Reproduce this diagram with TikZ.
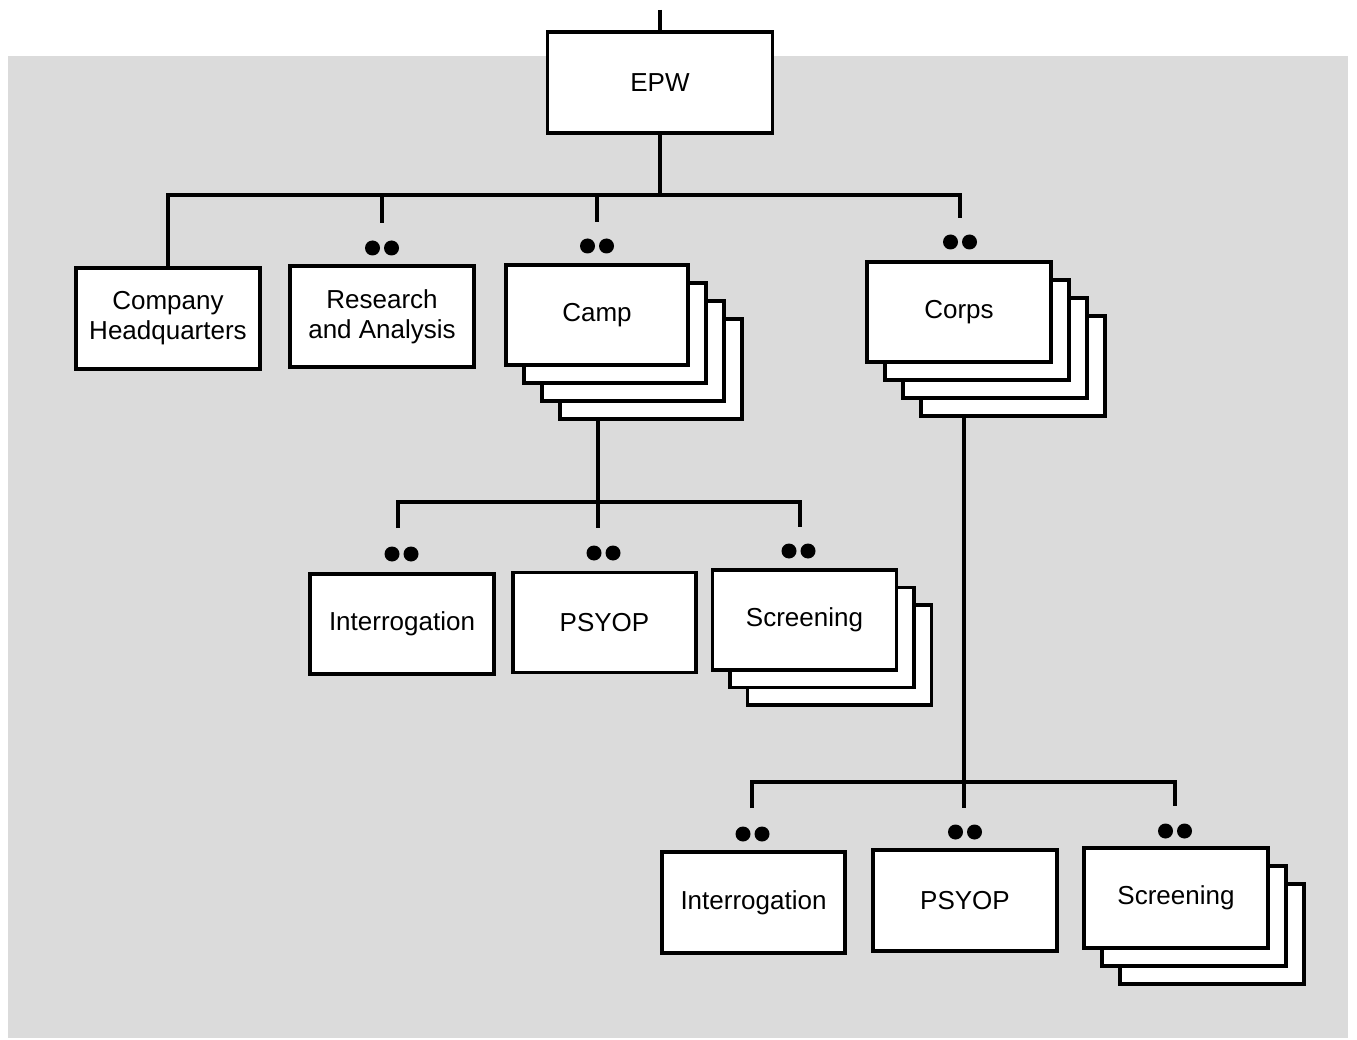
\documentclass[tikz,border=0pt]{standalone}
\usepackage{fontspec}
\setmainfont{Liberation Sans}
\definecolor{stipple}{gray}{0.86}
\pgfdeclarelayer{bg}
\pgfdeclarelayer{edges}
\pgfsetlayers{bg,edges,main}
\tikzset{
  box/.style={draw=black, fill=white, line width=3.6pt, inner sep=0pt, align=center,
    font=\fontsize{26}{30}\selectfont},
  conn/.style={line width=3.6pt, line cap=butt},
}
\newcommand\dotpair[1]{\fill[shift={(#1)}] (-9.5,0) circle (7.5) (9.5,0) circle (7.5);}
\begin{document}
\begin{tikzpicture}[x=1pt,y=-1pt]
\useasboundingbox (0,0) rectangle (1357,1040);
\begin{pgfonlayer}{bg}
  \fill[stipple] (8,56) rectangle (1348,1038);
\end{pgfonlayer}

% top level
\node[box, minimum width=225, minimum height=101] (epw) at (660,82.5) {EPW};
\node[box, minimum width=184, minimum height=101] (hq) at (168,318.5) {Company\\Headquarters};
\node[box, minimum width=184, minimum height=101] (ra) at (382,316.5) {Research\\and Analysis};

\node[box, minimum width=182, minimum height=100] (camp4) at (651,369) {};
\node[box, minimum width=182, minimum height=100] (camp3) at (633,351) {};
\node[box, minimum width=182, minimum height=100] (camp2) at (615,333) {};
\node[box, minimum width=182, minimum height=100] (camp) at (597,315) {Camp};

\node[box, minimum width=184, minimum height=100] (corps4) at (1013,366) {};
\node[box, minimum width=184, minimum height=100] (corps3) at (995,348) {};
\node[box, minimum width=184, minimum height=100] (corps2) at (977,330) {};
\node[box, minimum width=184, minimum height=100] (corps) at (959,312) {Corps};

% camp level
\node[box, minimum width=184, minimum height=100] (int1) at (402,624) {Interrogation};
\node[box, minimum width=183, minimum height=100] (psy1) at (604.5,622.5) {PSYOP};
\node[box, minimum width=184, minimum height=100] (scr1c) at (839.5,655) {};
\node[box, minimum width=184, minimum height=100] (scr1b) at (822,637.5) {};
\node[box, minimum width=184, minimum height=100] (scr1) at (804.5,620) {Screening};

% corps level
\node[box, minimum width=183, minimum height=101] (int2) at (753.5,902.5) {Interrogation};
\node[box, minimum width=184, minimum height=101] (psy2) at (965,900.5) {PSYOP};
\node[box, minimum width=184, minimum height=100] (scr2c) at (1212,934) {};
\node[box, minimum width=184, minimum height=100] (scr2b) at (1194,916) {};
\node[box, minimum width=184, minimum height=100] (scr2) at (1176,898) {Screening};

% coordinates
\coordinate (top) at (660,10);
\coordinate (tb) at (660,195);
\coordinate (tra) at (382,223);
\coordinate (tcamp) at (597,222);
\coordinate (tcorps) at (960,218);
\coordinate (cb) at (598,502);
\coordinate (tint1) at (398,528);
\coordinate (tpsy1) at (598,528);
\coordinate (tscr1) at (800,527);
\coordinate (kb) at (964,782);
\coordinate (tint2) at (752,808);
\coordinate (tpsy2) at (964,808);
\coordinate (tscr2) at (1175,806);

\coordinate (dra) at (382,248);
\coordinate (dcamp) at (597,246);
\coordinate (dcorps) at (960,242);
\coordinate (dint1) at (401.5,554);
\coordinate (dpsy1) at (603.5,553);
\coordinate (dscr1) at (798.5,551);
\coordinate (dint2) at (752.5,834);
\coordinate (dpsy2) at (965,832);
\coordinate (dscr2) at (1175,831);

\begin{pgfonlayer}{edges}
  \draw[conn] (top) -- (epw.north);
  \draw[conn] (epw.south) -- (tb);
  \draw[conn] (hq.north) |- (tb) -| (tcorps);
  \draw[conn] (tra |- tb) -- (tra);
  \draw[conn] (tcamp |- tb) -- (tcamp);

  \draw[conn] (camp.south -| cb) -- (cb);
  \draw[conn] (tint1) |- (cb) -| (tscr1);
  \draw[conn] (cb) -- (tpsy1);

  \draw[conn] (corps.south -| kb) -- (kb);
  \draw[conn] (tint2) |- (kb) -| (tscr2);
  \draw[conn] (kb) -- (tpsy2);
\end{pgfonlayer}

\dotpair{dra}
\dotpair{dcamp}
\dotpair{dcorps}
\dotpair{dint1}
\dotpair{dpsy1}
\dotpair{dscr1}
\dotpair{dint2}
\dotpair{dpsy2}
\dotpair{dscr2}
\end{tikzpicture}
\end{document}
